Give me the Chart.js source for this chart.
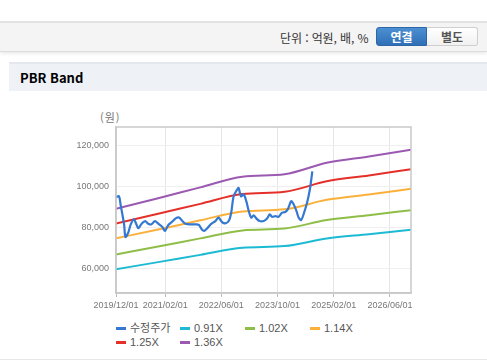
<!DOCTYPE html>
<html lang="ko">
<head>
<meta charset="utf-8">
<script src="https://cdn.jsdelivr.net/npm/chart.js@4/dist/chart.umd.min.js"></script>
<style>
  html, body { margin:0; padding:0; background:#fff; width:487px; height:362px; overflow:hidden; position:relative; font-family:"Noto Sans CJK KR","Noto Sans",sans-serif; }
  #topbar { position:absolute; left:0; top:21px; width:487px; height:28px; background:#f4f4f4; border-top:2px solid #e2e2e2; border-bottom:1px solid #dcdcdc; box-shadow:0 2px 3px rgba(0,0,0,0.08); }
  #unit { position:absolute; left:280px; top:29px; font-size:12px; line-height:17px; color:#333; letter-spacing:-0.1px; white-space:nowrap; }
  #btn1 { position:absolute; left:376px; top:27px; width:51px; height:19px; background:linear-gradient(#4d8fd3,#2f6fb6); border:1px solid #2c66a6; box-sizing:border-box; border-radius:3px 0 0 3px; color:#fff; font-weight:bold; font-size:12px; line-height:17px; text-align:center; }
  #btn2 { position:absolute; left:427px; top:27px; width:51px; height:19px; background:linear-gradient(#ffffff,#f1f1f1); border:1px solid #cfcfcf; border-left:none; box-sizing:border-box; border-radius:0 3px 3px 0; color:#555; font-weight:bold; font-size:12px; line-height:17px; text-align:center; }
  #titlebar { position:absolute; left:9px; top:62px; width:478px; height:27px; background:#eef2f7; border-top:2px solid #e4e8ee; }
  #title { position:absolute; left:20px; top:69px; font-size:13px; line-height:18px; font-weight:bold; color:#000; }
  #unitY { position:absolute; left:100px; top:110px; font-size:11px; line-height:14px; color:#777; letter-spacing:1px; }
  #chartCanvas { position:absolute; left:0; top:100px; }
  .lg { position:absolute; font-family:"Liberation Sans","Noto Sans CJK KR",sans-serif; font-size:11px; line-height:13px; color:#555; white-space:nowrap; }
  .lg span.sw { display:inline-block; width:10px; height:3px; vertical-align:middle; margin-right:4px; position:relative; top:-1px; }
  #bottomline { position:absolute; left:0; top:359px; width:487px; height:1px; background:#e8e8e8; }
</style>
</head>
<body>
<div id="topbar"></div>
<div id="unit">단위 : 억원, 배, %</div>
<div id="btn1">연결</div>
<div id="btn2">별도</div>
<div id="titlebar"></div>
<div id="title">PBR Band</div>
<div id="unitY">(원)</div>
<canvas id="chartCanvas" width="487" height="215"></canvas>
<div id="legend"></div>
<div id="bottomline"></div>
<script>
// x values are months counted from 2019/12/01
const tickMonths = [0, 14, 30, 46, 62, 78];
const tickLabels = ['2019/12/01', '2021/02/01', '2022/06/01', '2023/10/01', '2025/02/01', '2026/06/01'];
const yTickValues = [60000, 80000, 100000, 120000];

const seriesNames = ['수정주가', '0.91X', '1.02X', '1.14X', '1.25X', '1.36X'];
const seriesColors = ['#3478d2', '#1dbad3', '#8fbe48', '#fbb03b', '#e5302a', '#9b59b1'];

const priceMonths = [0,0.85,1.3,2.3,2.7,3.5,4.2,5.1,5.8,6.35,7.3,8.3,9.2,10.1,11.1,12.05,13.2,13.95,14.9,16.0,
  17.0,17.95,18.9,19.8,21.25,22.7,23.6,24.4,25.1,26.0,26.95,28.3,29.2,30.2,31.1,32.1,32.8,33.5,34.5,34.9,
  35.6,36.35,37.1,37.8,38.5,39.2,40.0,40.9,42.05,43.0,43.8,44.4,45.4,46.3,47.3,48.2,48.9,49.9,50.6,51.4,
  52.0,52.7,53.4,54.4,55.2,55.6,55.9];
const priceValues = [94800,95200,91200,81500,75300,77500,81500,83900,81500,79600,81800,83100,81800,81500,83100,81800,80200,78300,81200,82800,
  84400,84800,83100,81800,81500,81500,81200,79100,78300,79600,81500,83100,84800,82600,82000,83100,87200,95200,98500,99300,
  95200,96100,92800,88000,84800,85900,84300,83100,83100,84300,86400,85200,85500,85200,87200,87500,88800,92800,91200,88000,
  84800,83600,86400,92000,98500,103300,107400];

const bandMonths = [0, 12, 24, 36, 48, 60, 72, 84];
const band091 = [59600, 63060, 66610, 70070, 70890, 74620, 76710, 78900];
const band102 = [66810, 70690, 74660, 78540, 79460, 83640, 85990, 88430];
const band114 = [74670, 79000, 83450, 87780, 88810, 93480, 96100, 98840];
const band125 = [81880, 86630, 91500, 96250, 97380, 102500, 105380, 108380];
const band136 = [89080, 94250, 99550, 104720, 105940, 111520, 114650, 117910];

const toXY = (xs, ys) => xs.map((x, i) => ({ x: x, y: ys[i] }));
const seriesData = [
  toXY(priceMonths, priceValues),
  toXY(bandMonths, band091),
  toXY(bandMonths, band102),
  toXY(bandMonths, band114),
  toXY(bandMonths, band125),
  toXY(bandMonths, band136)
];

const datasets = seriesNames.map((name, i) => ({
  label: name,
  data: seriesData[i],
  borderColor: seriesColors[i],
  backgroundColor: seriesColors[i],
  borderWidth: i === 0 ? 2.2 : 2,
  pointRadius: 0,
  tension: i === 0 ? 0.3 : 0,
  cubicInterpolationMode: i === 0 ? 'default' : 'monotone',
  fill: false
}));

const frame = {
  id: 'frame',
  afterDatasetsDraw(chart) {
    const a = chart.chartArea, c = chart.ctx;
    c.save();
    c.strokeStyle = '#c9c9c9';
    c.lineWidth = 1.5;
    c.strokeRect(a.left, a.top, a.right - a.left, a.bottom - a.top);
    c.restore();
  }
};

new Chart(document.getElementById('chartCanvas'), {
  type: 'line',
  data: { datasets },
  options: {
    responsive: false,
    animation: false,
    layout: { padding: { top: 27, right: 76, left: 0, bottom: 0 } },
    plugins: { legend: { display: false }, tooltip: { enabled: false } },
    scales: {
      x: {
        type: 'linear', min: 0, max: 84,
        afterBuildTicks: s => { s.ticks = tickMonths.map(v => ({ value: v })); },
        afterFit: s => { s.height = 22; },
        ticks: {
          autoSkip: false, maxRotation: 0, padding: 3,
          color: '#777', font: { family: 'Liberation Sans', size: 9 },
          callback: v => tickLabels[tickMonths.indexOf(v)]
        },
        grid: { color: '#e6e6e6', tickColor: '#bdbdbd', tickLength: 4, lineWidth: 1 },
        border: { color: '#c4c4c4', width: 1.5 }
      },
      y: {
        min: 48000, max: 129000,
        afterBuildTicks: s => { s.ticks = yTickValues.map(v => ({ value: v })); },
        afterFit: s => { s.width = 116; },
        ticks: {
          padding: 7, color: '#777', font: { family: 'Liberation Sans', size: 9 },
          callback: v => v.toLocaleString('en-US')
        },
        grid: { color: '#efefef', drawTicks: false },
        border: { color: '#c9c9c9', width: 1.5 }
      }
    }
  },
  plugins: [frame]
});

// legend (grid of 4 columns)
const legendCols = [116, 180, 245, 310];
const legendRows = [322, 336];
const lg = document.getElementById('legend');
seriesNames.forEach((name, i) => {
  const d = document.createElement('div');
  d.className = 'lg';
  d.style.left = legendCols[i % 4] + 'px';
  d.style.top = legendRows[Math.floor(i / 4)] + 'px';
  d.innerHTML = '<span class="sw" style="background:' + seriesColors[i] + '"></span>' + name;
  lg.appendChild(d);
});
</script>
</body>
</html>
